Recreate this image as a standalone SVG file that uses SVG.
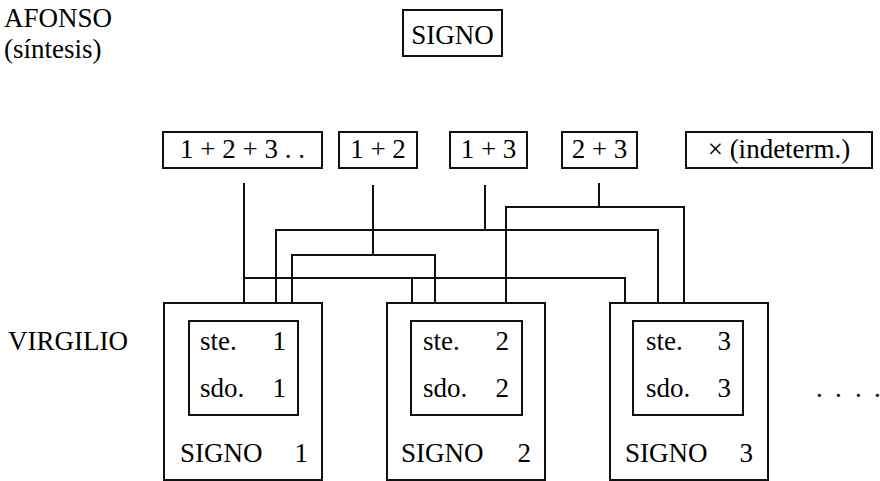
<svg xmlns="http://www.w3.org/2000/svg" width="880" height="481" viewBox="0 0 880 481">
  <style>
    .box { fill: #fff; stroke: #111; stroke-width: 2; }
    .wire { fill: none; stroke: #111; stroke-width: 2; }
  </style>
  <rect width="880" height="481" fill="#fff"/>

  <!-- side labels -->
  <g id="afonso">
    <text x="4" y="27" style="font-family:'Liberation Serif';font-size:27px">AFONSO</text>
    <text x="4" y="58" style="font-family:'Liberation Serif';font-size:27px">(síntesis)</text>
  </g>
  <g id="virgilio">
    <text x="8" y="350" style="font-family:'Liberation Serif';font-size:27px">VIRGILIO</text>
  </g>

  <!-- heading sign -->
  <g id="signo-top">
    <rect class="box" x="403" y="10" width="99" height="46"/>
    <text x="452.5" y="44" text-anchor="middle" style="font-family:'Liberation Serif';font-size:27px">SIGNO</text>
  </g>

  <!-- combination boxes -->
  <g id="c123">
    <rect class="box" x="163" y="132" width="159" height="36"/>
    <text x="242.5" y="158" text-anchor="middle" style="font-family:'Liberation Serif';font-size:27px">1 + 2 + 3 . .</text>
  </g>
  <g id="c12">
    <rect class="box" x="339" y="132" width="78" height="36"/>
    <text x="378" y="158" text-anchor="middle" style="font-family:'Liberation Serif';font-size:27px">1 + 2</text>
  </g>
  <g id="c13">
    <rect class="box" x="450" y="132" width="77" height="36"/>
    <text x="488.5" y="158" text-anchor="middle" style="font-family:'Liberation Serif';font-size:27px">1 + 3</text>
  </g>
  <g id="c23">
    <rect class="box" x="562" y="132" width="75" height="36"/>
    <text x="599.5" y="158" text-anchor="middle" style="font-family:'Liberation Serif';font-size:27px">2 + 3</text>
  </g>
  <g id="cx">
    <rect class="box" x="686" y="132" width="186" height="36"/>
    <text x="779" y="158" text-anchor="middle" style="font-family:'Liberation Serif';font-size:27px">× (indeterm.)</text>
  </g>

  <!-- connectors: each combination drops to the signs it joins -->
  <g id="connectors">
    <path class="wire" d="M244 183 V303 M244 278 H625 V303 M412 278 V303"/>
    <path class="wire" d="M373 185 V255 M292 303 V255 H435 V303"/>
    <path class="wire" d="M485 185 V230 M276 303 V230 H658 V303"/>
    <path class="wire" d="M599 183 V207 M506 303 V207 H684 V303"/>
  </g>

  <!-- individual signs -->
  <g id="signo1">
    <rect class="box" x="164" y="303" width="158" height="177"/>
    <rect class="box" x="189" y="321" width="109" height="94"/>
    <text x="200" y="350" style="font-family:'Liberation Serif';font-size:27px">ste.</text>
    <text x="286" y="350" text-anchor="end" style="font-family:'Liberation Serif';font-size:27px">1</text>
    <text x="200" y="397" style="font-family:'Liberation Serif';font-size:27px">sdo.</text>
    <text x="286" y="397" text-anchor="end" style="font-family:'Liberation Serif';font-size:27px">1</text>
    <text x="180" y="462" style="font-family:'Liberation Serif';font-size:27px">SIGNO</text>
    <text x="308" y="462" text-anchor="end" style="font-family:'Liberation Serif';font-size:27px">1</text>
  </g>
  <g id="signo2">
    <rect class="box" x="387" y="303" width="158" height="177"/>
    <rect class="box" x="411" y="321" width="111" height="94"/>
    <text x="423" y="350" style="font-family:'Liberation Serif';font-size:27px">ste.</text>
    <text x="509" y="350" text-anchor="end" style="font-family:'Liberation Serif';font-size:27px">2</text>
    <text x="423" y="397" style="font-family:'Liberation Serif';font-size:27px">sdo.</text>
    <text x="509" y="397" text-anchor="end" style="font-family:'Liberation Serif';font-size:27px">2</text>
    <text x="401" y="462" style="font-family:'Liberation Serif';font-size:27px">SIGNO</text>
    <text x="531" y="462" text-anchor="end" style="font-family:'Liberation Serif';font-size:27px">2</text>
  </g>
  <g id="signo3">
    <rect class="box" x="610" y="303" width="158" height="177"/>
    <rect class="box" x="633" y="321" width="110" height="94"/>
    <text x="646" y="350" style="font-family:'Liberation Serif';font-size:27px">ste.</text>
    <text x="731" y="350" text-anchor="end" style="font-family:'Liberation Serif';font-size:27px">3</text>
    <text x="646" y="397" style="font-family:'Liberation Serif';font-size:27px">sdo.</text>
    <text x="731" y="397" text-anchor="end" style="font-family:'Liberation Serif';font-size:27px">3</text>
    <text x="625" y="462" style="font-family:'Liberation Serif';font-size:27px">SIGNO</text>
    <text x="753" y="462" text-anchor="end" style="font-family:'Liberation Serif';font-size:27px">3</text>
  </g>

  <g id="more">
    <text x="816 835 855 874" y="397" style="font-family:'Liberation Serif';font-size:27px">....</text>
  </g>
</svg>
